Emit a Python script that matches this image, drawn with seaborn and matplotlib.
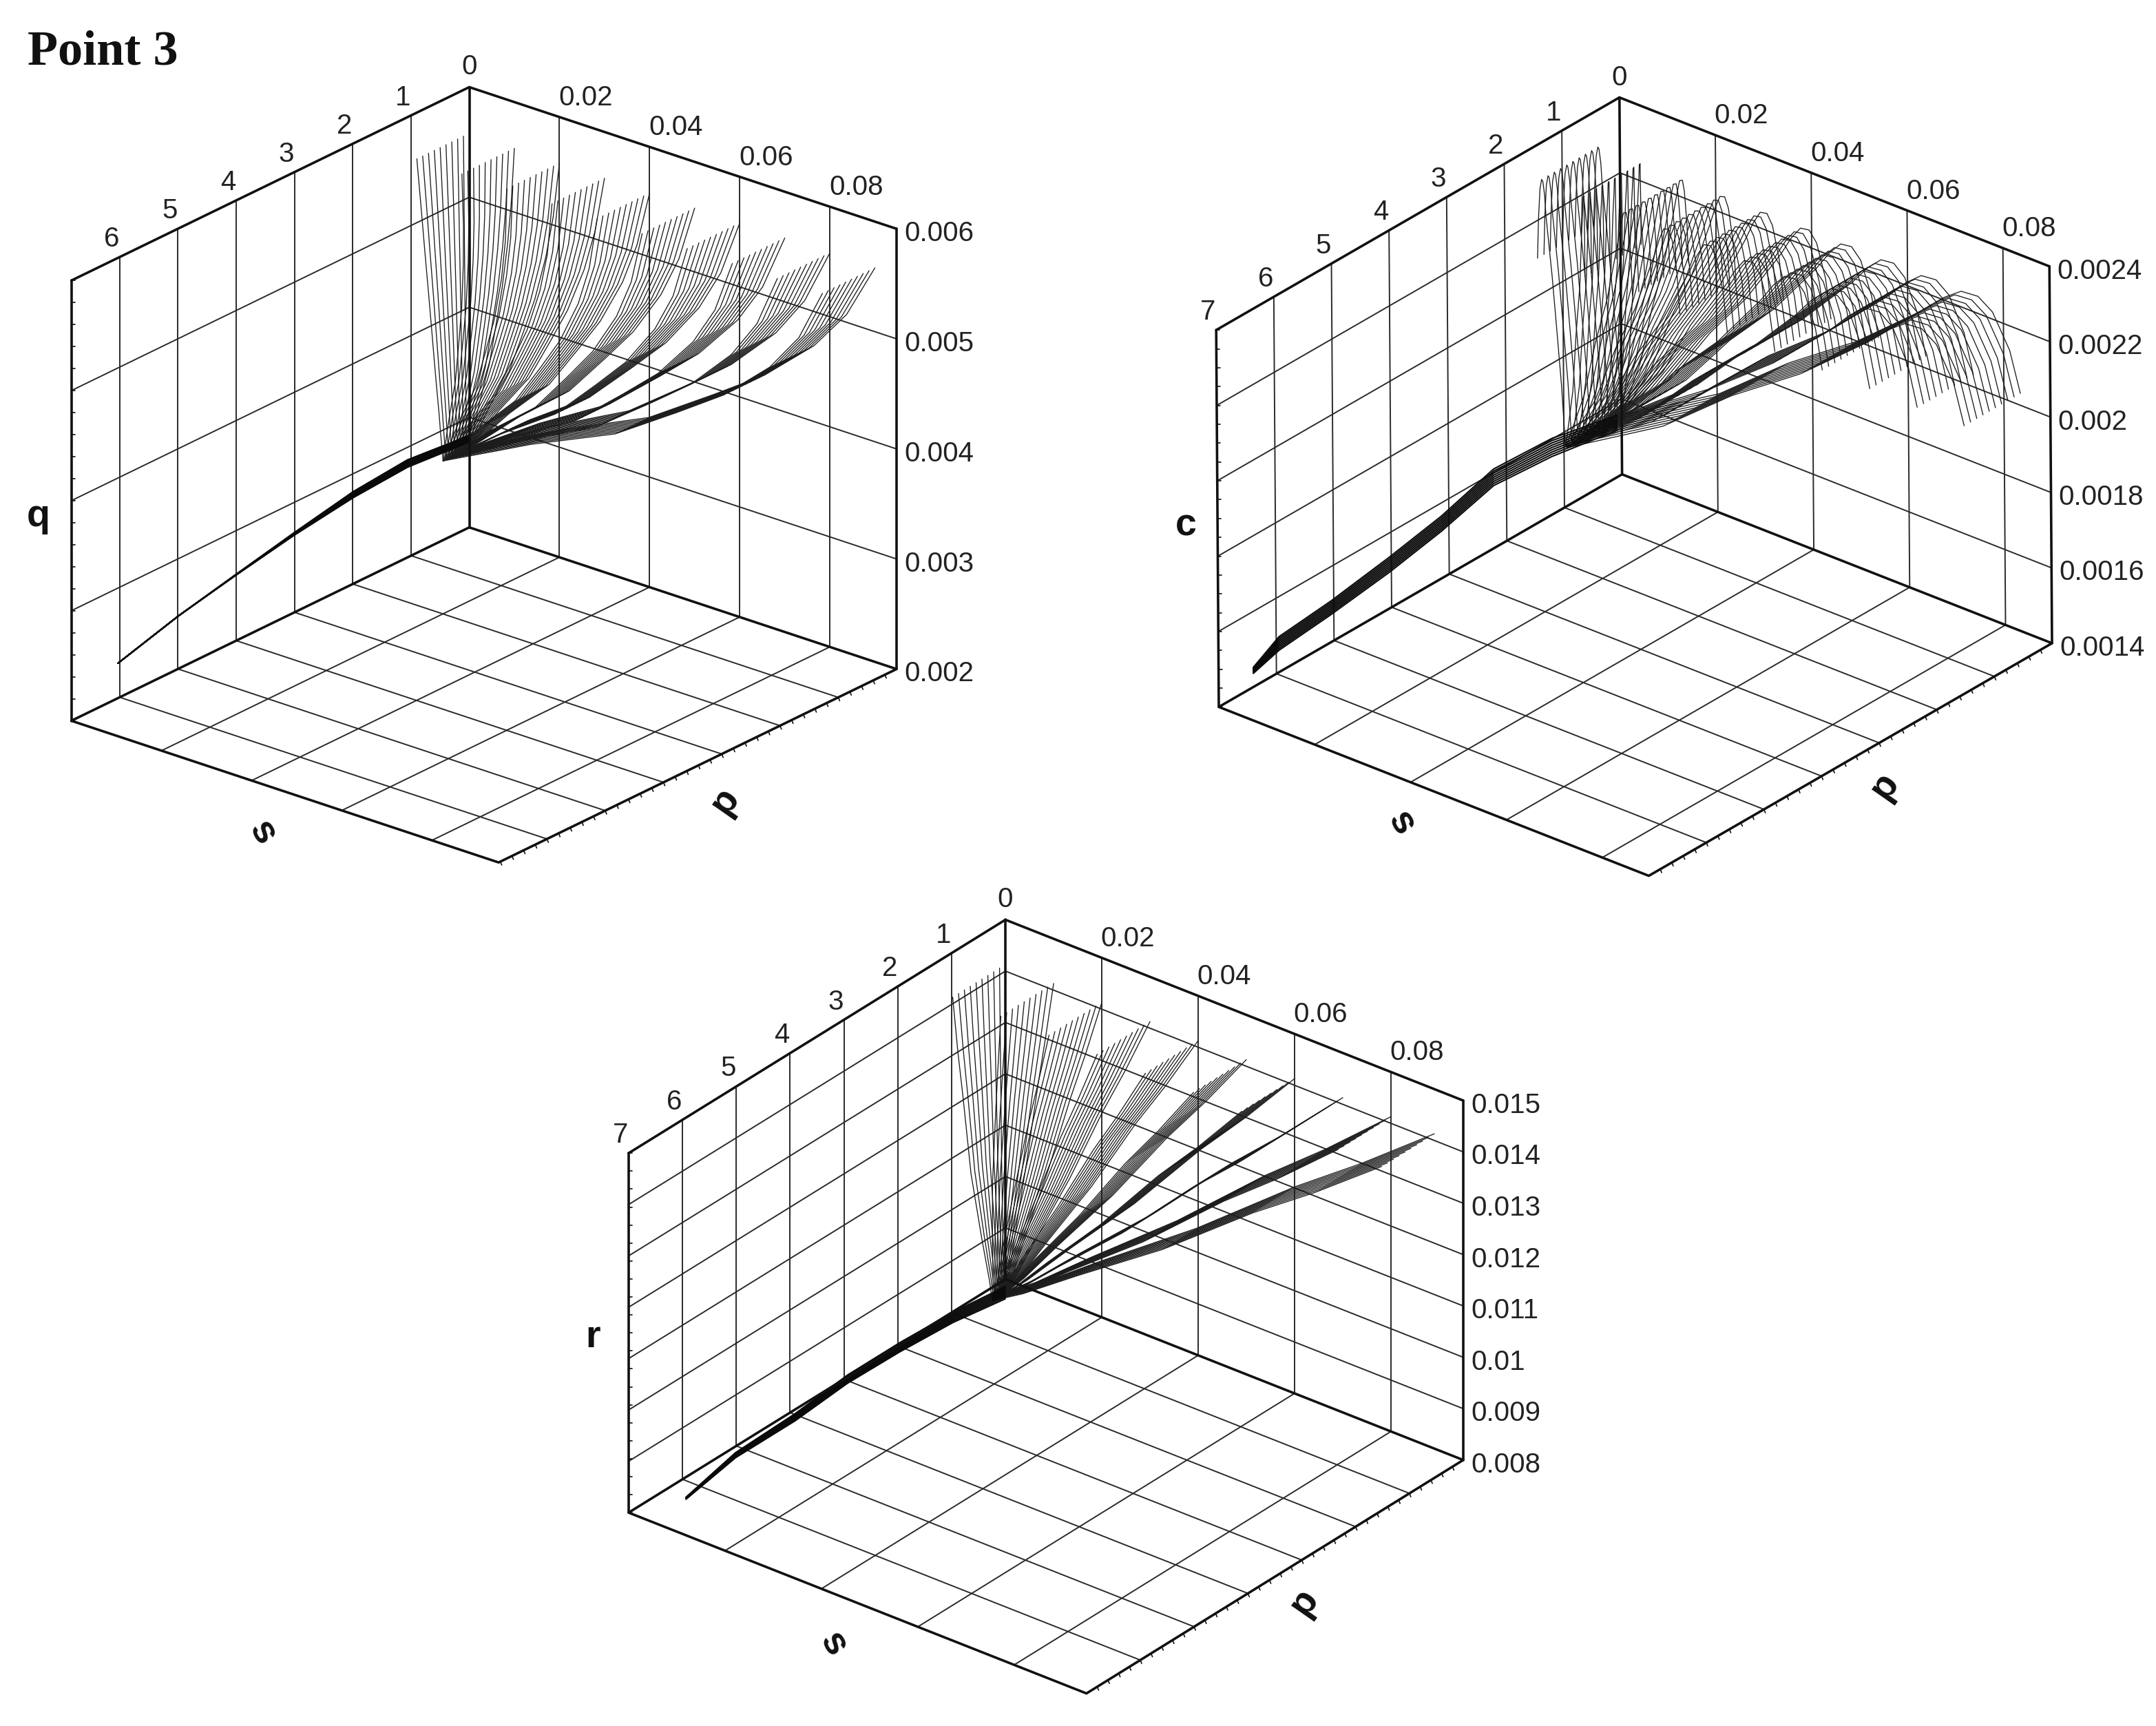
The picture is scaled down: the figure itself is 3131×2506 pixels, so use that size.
import numpy as np
import pandas as pd
import seaborn as sns
import matplotlib
matplotlib.use('Agg')
import matplotlib.pyplot as plt

# Values. Strands are not read one at a time: each one is
# its fan's start point (p0, s0) carried along the panel's read station tables.

# q panel
q_p0 = [0.0, 0.01, 0.02, 0.03, 0.04, 0.05, 0.06, 0.07, 0.08, 0.09]
q_s0 = [0.0, 0.1, 0.2, 0.3, 0.4, 0.5, 0.6, 0.7, 0.8, 0.9]
q_fp = [1, 0.93, 0.85, 0.727, 0.605, 0.443, 0.224, 0.143, 0]
q_sf = [1, 0.91, 0.845, 0.77, 0.715, 0.645, 0.575, 0.55, 0.5]
q_ds = [0, 0, 0, 0, 0, 0, 0, 0, 0]
q_pa = [0, 0, 0, 0, 0, 0, 0, 0, 0]
q_z = [0.00558, 0.00507, 0.00469, 0.00427, 0.00395, 0.00354, 0.00316, 0.0030, 0.00272]
q_ridge_s = [6.03, 4.99, 4.0, 3.01, 1.99, 1.06, 0.0]
q_ridge_p = [0, 0, 0, 0, 0, 0, 0]
q_ridge_z = [0.002317, 0.00248, 0.0026, 0.002713, 0.00281, 0.002853, 0.002805]
q_ridge_w = [0.0, 0.0, 0.000004, 0.000012, 0.000028, 0.000034, 0.00003]

# c panel
c_p0 = [0.0, 0.0099, 0.0198, 0.0297, 0.0396, 0.0495, 0.0594, 0.0693, 0.0792, 0.089]
c_s0 = [0.46, 0.568, 0.676, 0.784, 0.892, 1.0, 1.108, 1.216, 1.324, 1.435]
c_fp = [1, 0.973, 0.929, 0.891, 0.849, 0.803, 0.755, 0.582, 0.411, 0.238, 0.006]
c_sf = [1, 1, 1, 1, 1, 1, 1, 1, 1, 1, 1]
c_ds = [0, -0.02, -0.05, -0.08, -0.1, -0.13, -0.15, -0.25, -0.32, -0.4, -0.46]
c_pa = [0, 0, 0, 0, 0, 0, 0, 0, 0, 0, 0]
c_z = [0.0021, 0.0022, 0.00228, 0.002302, 0.002295, 0.002255, 0.0022, 0.00203, 0.00189, 0.001725, 0.00156]
c_ridge_s = [6.4, 5.95, 5.05, 4.03, 3.13, 2.22, 1.21, 0.08]
c_ridge_p = [0, 0, 0, 0, 0, 0, 0, 0]
c_ridge_z = [0.001444, 0.001476, 0.001491, 0.001516, 0.001545, 0.001588, 0.001578, 0.001544]
c_ridge_w = [0.000008, 0.000018, 0.000018, 0.00002, 0.00002, 0.000022, 0.000024, 0.00002]

# r panel
r_p0 = [0.0, 0.01, 0.02, 0.03, 0.04, 0.05, 0.06, 0.07, 0.08, 0.089]
r_s0 = [0.0, 0.109, 0.218, 0.327, 0.436, 0.545, 0.654, 0.763, 0.872, 0.98]
r_fp = [1, 0.83, 0.675, 0.446, 0.225, 0.078, 0]
r_sf = [1, 0.9, 0.8, 0.65, 0.45, 0.3, 0.245]
r_ds = [0, 0.054, 0.135, 0.27, 0.432, 0.513, 0.54]
r_pa = [0, 0.0006, 0.0015, 0.003, 0.0048, 0.0057, 0.006]
r_z = [0.01413, 0.01305, 0.01217, 0.01075, 0.00956, 0.00871, 0.00831]
r_ridge_s = [6.47, 5.55, 4.45, 3.47, 2.49, 1.51, 0.54]
r_ridge_p = [0.006, 0.006, 0.006, 0.006, 0.006, 0.006, 0.006]
r_ridge_z = [0.00816, 0.0084, 0.00842, 0.00853, 0.00852, 0.00846, 0.00831]
r_ridge_w = [0.00002, 0.00005, 0.00007, 0.00008, 0.00009, 0.0001, 0.00012]

s_ticks = [1, 2, 3, 4, 5, 6, 7]
p_ticks = [0.02, 0.04, 0.06, 0.08]
p_tick_labels = ['0.02', '0.04', '0.06', '0.08']
q_ticks = ['0.002', '0.003', '0.004', '0.005', '0.006']
c_ticks = ['0.0014', '0.0016', '0.0018', '0.002', '0.0022', '0.0024']
r_ticks = ['0.008', '0.009', '0.01', '0.011', '0.012', '0.013', '0.014', '0.015']

panels = [
    dict(name='q', smax=6.83, pmax=0.0948, zr=(0.002, 0.006), ticks=q_ticks,
         back=(681.5, 765.7), top=(681.5, 126.5), left=(103.6, 1046.5), right=(1302, 971.4),
         p0=q_p0, s0=q_s0, fp=q_fp, sf=q_sf, ds=q_ds, pa=q_pa, z=q_z,
         rs=q_ridge_s, rp=q_ridge_p, rz=q_ridge_z, rw=q_ridge_w,
         lab=(56, 750), lab_s=(380, 1209), lab_p=(1053, 1163)),
    dict(name='c', smax=7.0, pmax=0.0897, zr=(0.0014, 0.0024), ticks=c_ticks,
         back=(2355.6, 688.7), top=(2351.8, 141.5), left=(1770, 1026.4), right=(2980, 933.9),
         p0=c_p0, s0=c_s0, fp=c_fp, sf=c_sf, ds=c_ds, pa=c_pa, z=c_z,
         rs=c_ridge_s, rp=c_ridge_p, rz=c_ridge_z, rw=c_ridge_w,
         lab=(1722, 764), lab_s=(2034, 1195), lab_p=(2737, 1141)),
    dict(name='r', smax=7.0, pmax=0.095, zr=(0.008, 0.015), ticks=r_ticks,
         back=(1460.1, 1857.3), top=(1460.1, 1335.4), left=(912.9, 2196.2), right=(2125, 2119.8),
         p0=r_p0, s0=r_s0, fp=r_fp, sf=r_sf, ds=r_ds, pa=r_pa, z=r_z,
         rs=r_ridge_s, rp=r_ridge_p, rz=r_ridge_z, rw=r_ridge_w,
         lab=(861, 1942), lab_s=(1209, 2387), lab_p=(1894, 2326)),
]


def project(pn, s, p, z):
    b, t, l, r = pn['back'], pn['top'], pn['left'], pn['right']
    u = np.asarray(s, dtype=float) / pn['smax']
    v = np.asarray(p, dtype=float) / pn['pmax']
    w = (np.asarray(z, dtype=float) - pn['zr'][0]) / (pn['zr'][1] - pn['zr'][0])
    x = b[0] + u * (l[0] - b[0]) + v * (r[0] - b[0]) + w * (t[0] - b[0])
    y = b[1] + u * (l[1] - b[1]) + v * (r[1] - b[1]) + w * (t[1] - b[1])
    return x, y


def draw(ax, rows, lw, color):
    df = pd.concat(rows, ignore_index=True)
    sns.lineplot(data=df, x='x', y='y', units='id', estimator=None, sort=False,
                 lw=lw, color=color, legend=False, ax=ax)


def seg(pn, i, s, p, z):
    x, y = project(pn, s, p, z)
    return pd.DataFrame({'x': x, 'y': y, 'id': i})


sns.set_theme(style='white')
plt.rcParams['font.family'] = ['Liberation Sans', 'DejaVu Sans']

fig = plt.figure(figsize=(31.31, 25.06), dpi=100)
ax = fig.add_axes([0, 0, 1, 1])

for pn in panels:
    smax, pmax = pn['smax'], pn['pmax']
    z0, z1 = pn['zr']
    zvals = [float(t) for t in pn['ticks']]
    ss = [t for t in s_ticks if t <= smax]

    # grid on the walls and the floor
    grid = []
    n = 0
    for t in ss:
        grid.append(seg(pn, n, [t, t], [0, 0], [z0, z1])); n += 1
        grid.append(seg(pn, n, [t, t], [0, pmax], [z0, z0])); n += 1
    for t in p_ticks:
        grid.append(seg(pn, n, [0, 0], [t, t], [z0, z1])); n += 1
        grid.append(seg(pn, n, [0, smax], [t, t], [z0, z0])); n += 1
    for t in zvals[1:-1]:
        grid.append(seg(pn, n, [smax, 0, 0], [0, 0, pmax], [t, t, t])); n += 1
    draw(ax, grid, 1.4, '#2a2a2a')

    # strands, one fan per p0
    rows = []
    n = 0
    for p0 in pn['p0']:
        for s0 in pn['s0']:
            s = s0 * np.array(pn['sf']) + np.array(pn['ds'])
            p = p0 * np.array(pn['fp']) + np.array(pn['pa'])
            rows.append(seg(pn, n, s, p, pn['z']))
            n += 1
    draw(ax, rows, 0.95, '#1c1c1c')

    # bundle where every strand runs together
    rows = []
    for i, k in enumerate([-1, -0.75, -0.5, -0.25, 0, 0.25, 0.5, 0.75, 1]):
        rows.append(seg(pn, i, pn['rs'], pn['rp'], np.array(pn['rz']) + k * np.array(pn['rw'])))
    draw(ax, rows, 1.5, '#0a0a0a')

    # box outline
    frame = [
        seg(pn, 0, [smax, 0, 0], [0, 0, pmax], [z1, z1, z1]),
        seg(pn, 1, [0, 0], [0, 0], [z0, z1]),
        seg(pn, 2, [0, 0], [pmax, pmax], [z0, z1]),
        seg(pn, 3, [smax, smax], [0, 0], [z0, z1]),
        seg(pn, 4, [0, smax, smax, 0, 0], [0, 0, pmax, pmax, 0], [z0, z0, z0, z0, z0]),
    ]
    draw(ax, frame, 2.6, '#111111')

    # small ticks on the front-right floor edge and the left wall edge
    minor = []
    n = 0
    for t in np.arange(0.2, smax, 0.2):
        x, y = project(pn, t, pmax, z0)
        minor.append(pd.DataFrame({'x': [x, x + 2], 'y': [y, y + 5], 'id': n})); n += 1
    for t in np.linspace(z0, z1, 21):
        x, y = project(pn, smax, 0, t)
        minor.append(pd.DataFrame({'x': [x, x + 5], 'y': [y, y], 'id': n})); n += 1
    draw(ax, minor, 1.2, '#111111')

    # tick labels
    x, y = project(pn, 0, 0, z1)
    ax.text(x, y - 29, '0', fontsize=29, ha='center', va='center', color='#222222')
    for t in ss:
        x, y = project(pn, t, 0, z1)
        ax.text(x - 12, y - 26, str(t), fontsize=29, ha='center', va='center', color='#222222')
    for t, lab in zip(p_ticks, p_tick_labels):
        x, y = project(pn, 0, t, z1)
        ax.text(x + 38, y - 28, lab, fontsize=29, ha='center', va='center', color='#222222')
    for t, lab in zip(zvals, pn['ticks']):
        x, y = project(pn, 0, pmax, t)
        ax.text(x + 11, y + 7, lab, fontsize=29, ha='left', va='center', color='#222222')

    # axis titles
    ax.text(*pn['lab'], pn['name'], fontsize=40, fontweight='bold', ha='center', va='center', color='#111111')
    ax.text(*pn['lab_s'], 's', fontsize=40, fontweight='bold', rotation=-60, ha='center', va='center', color='#111111')
    ax.text(*pn['lab_p'], 'p', fontsize=40, fontweight='bold', rotation=55, ha='center', va='center', color='#111111')

ax.text(40, 76, 'Point 3', fontsize=52, fontweight='bold', family='Liberation Serif', ha='left', va='center', color='#111111')

ax.set_xlim(0, 3131)
ax.set_ylim(2506, 0)
ax.set_xlabel('')
ax.set_ylabel('')
ax.axis('off')
fig.savefig('out.png', dpi=100, facecolor='white')
